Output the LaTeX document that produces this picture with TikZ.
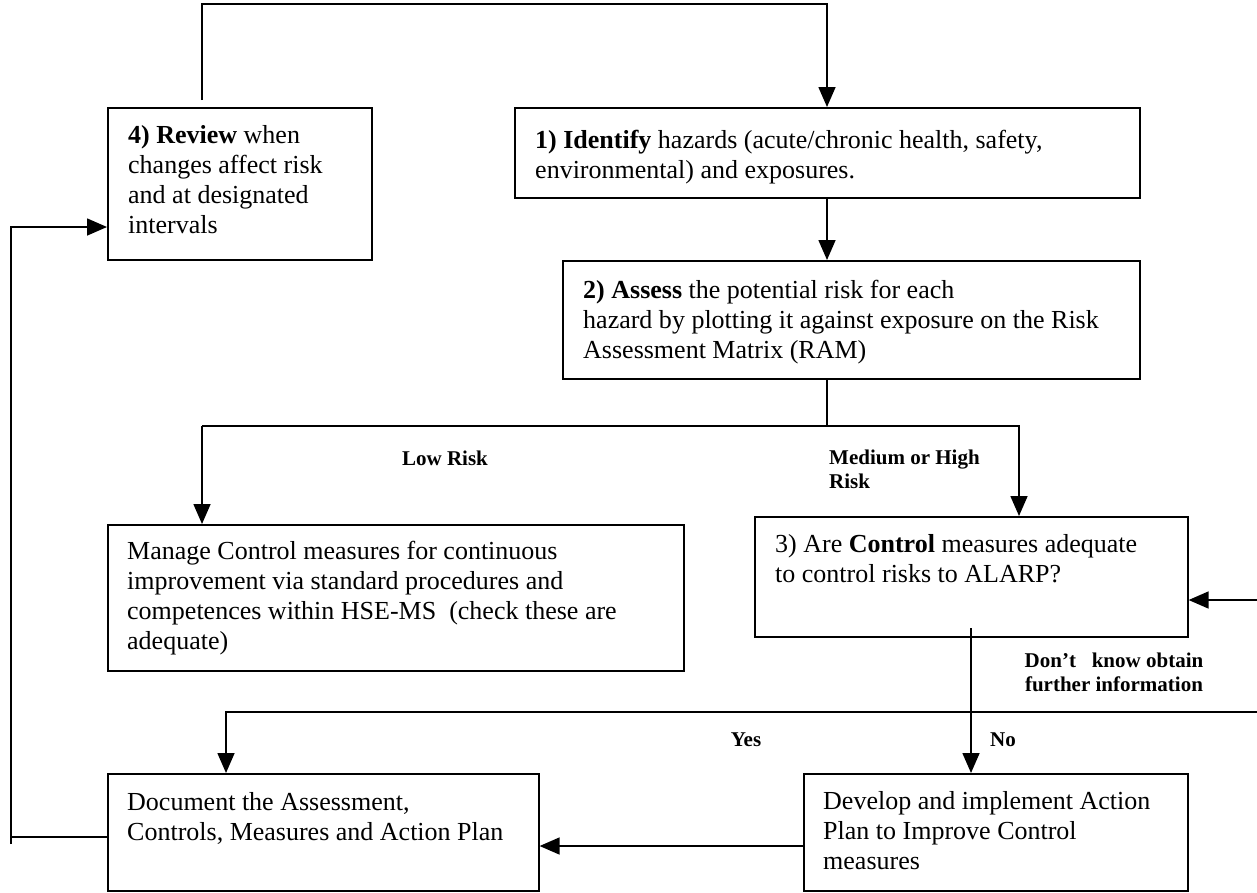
\documentclass[tikz,border=0pt]{standalone}
\usepackage{fontspec}
\setmainfont{Liberation Serif}
\usetikzlibrary{arrows.meta,calc}
\tikzset{
  boxst/.style={draw, line width=1.6pt, inner sep=0pt, anchor=north west},
  txt/.style={inner sep=0pt, anchor=base west},
  lbl/.style={inner sep=0pt, font=\fontsize{21}{24}\selectfont\bfseries},
  conn/.style={line width=1.6pt},
  arr/.style={conn, -{Triangle[length=20pt,width=17pt]}},
}
\newcommand{\boxtxt}[2]{\parbox[t]{#1pt}{\fontsize{26}{30}\selectfont #2}}

\begin{document}
\begin{tikzpicture}[x=1pt,y=-1pt]
\useasboundingbox (0,0) rectangle (1257,892);

% boxes
\node[boxst, minimum width=264pt, minimum height=152pt] (rev) at (107,107) {};
\node[txt] (revt) at ($(rev.north west)+(21,36)$)
  {\boxtxt{240}{\textbf{4) Review} when\\changes affect risk\\and at designated\\intervals}};

\node[boxst, minimum width=625pt, minimum height=90pt] (ide) at (514,107) {};
\node[txt] (idet) at ($(ide.north west)+(21,41)$)
  {\boxtxt{600}{\textbf{1) Identify} hazards (acute/chronic health, safety,\\environmental) and exposures.}};

\node[boxst, minimum width=577pt, minimum height=118pt] (ass) at (562,260) {};
\node[txt] (asst) at ($(ass.north west)+(21,38)$)
  {\boxtxt{550}{\textbf{2) Assess} the potential risk for each\\hazard by plotting it against exposure on the Risk\\Assessment Matrix (RAM)}};

\node[boxst, minimum width=576pt, minimum height=146pt] (man) at (107,524) {};
\node[txt] (mant) at ($(man.north west)+(20,35)$)
  {\boxtxt{550}{Manage Control measures for continuous\\improvement via standard procedures and\\competences within HSE-MS\ \ (check these are\\adequate)}};

\node[boxst, minimum width=433pt, minimum height=120pt] (ctl) at (754,516) {};
\node[txt] (ctlt) at ($(ctl.north west)+(21,36)$)
  {\boxtxt{410}{3) Are \textbf{Control} measures adequate\\to control risks to ALARP?}};

\node[boxst, minimum width=431pt, minimum height=117pt] (doc) at (107,773) {};
\node[txt] (doct) at ($(doc.north west)+(20,37)$)
  {\boxtxt{410}{Document the Assessment,\\Controls, Measures and Action Plan}};

\node[boxst, minimum width=384pt, minimum height=117pt] (dev) at (803,773) {};
\node[txt] (devt) at ($(dev.north west)+(20,36)$)
  {\boxtxt{360}{Develop and implement Action\\Plan to Improve Control\\measures}};

% helper coordinates
\coordinate (r0) at (202,100);
\coordinate (t1) at (202,4);
\coordinate (t2) at (827,4);
\coordinate (sp) at (827,426);
\coordinate (lowx) at (202,426);
\coordinate (medx) at (1019,426);
\coordinate (cout) at (971,628);
\coordinate (re1) at (1257,600);
\coordinate (re2) at (1257,712);
\coordinate (docx) at (226,712);
\coordinate (ya) at (0,846);
\coordinate (yb) at (0,837);
\coordinate (lc) at (11,837);
\coordinate (lb) at (11,844);
\coordinate (lt) at (11,227);

% connectors
\draw[arr] (r0) -- (t1) -- (t2) -- (t2 |- ide.north);
\draw[arr] (t2 |- ide.south) -- (t2 |- ass.north);
\draw[conn] (t2 |- ass.south) -- (sp);
\draw[arr] (lowx) -- (medx) -- (medx |- ctl.north);
\draw[arr] (lowx) -- (lowx |- man.north);
\draw[arr] (cout) -- (cout |- dev.north);
\draw[arr] (re1) -- (re1 -| ctl.east);
\draw[arr] (re2) -- (docx) -- (docx |- doc.north);
\draw[arr] (dev.west |- ya) -- (doc.east |- ya);
\draw[conn] (doc.west |- yb) -- (lc);
\draw[arr] (lb) -- (lt) -- (rev.west |- lt);

% labels
\node[lbl] (low) at (445,458) {Low Risk};
\node[lbl, anchor=north west, align=left] (med) at (829,450) {Medium or High\\Risk};
\node[lbl, align=center] (dk) at (1114,672) {Don’t\ \ \ know obtain\\further information};
\node[lbl] (yes) at (746,740) {Yes};
\node[lbl] (no) at (1003,740) {No};
\end{tikzpicture}
\end{document}
